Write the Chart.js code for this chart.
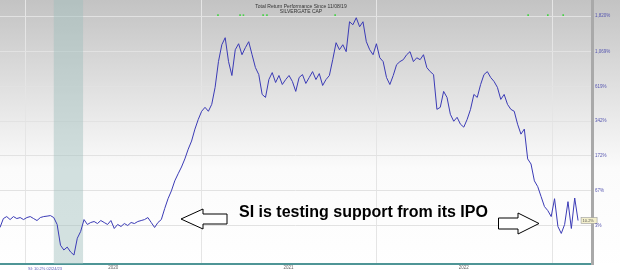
<!DOCTYPE html>
<html>
<head>
<meta charset="utf-8">
<script src="https://cdn.jsdelivr.net/npm/chart.js@4.4.1/dist/chart.umd.min.js"></script>
<style>
  html, body { margin: 0; padding: 0; background: #fff; }
  canvas { display: block; }
</style>
</head>
<body>
<canvas id="perfChart" width="620" height="272"></canvas>
<script>
const titleLines = ["Total Return Performance Since 11/08/19", "SILVERGATE CAP"];
const calloutText = "SI is testing support from its IPO";

// weekly closes, total return % since the start date
const startDate = "2019-11-08";
const totalReturnPct = [
  0, 13.3, 16.5, 11.7, 16.5, 13.3, 14.9, 11.7, 14.9, 16.5,
  13.3, 10.2, 14.9, 16.5, 17.2, 18.1, 14.9, 4.3, -22, -27,
  -24, -29, -32, -14, -5.4, 11.7, 4.3, 7.2, 8.7, 5.7,
  10.2, 7.2, 4.3, 10.2, -1.4, 4.3, 1.4, 5.7, 2.8, 7.2,
  5.7, 8.7, 10.2, 11.7, 14.9, 7.2, 0, 7.2, 11.7, 30.2,
  49.6, 67, 92, 112, 133, 161, 199, 235, 296, 354,
  408, 437, 408, 460, 610, 918, 1189, 1322, 918, 738,
  1102, 1207, 1021, 1137, 1245, 1021, 836, 749, 543, 517,
  692, 773, 660, 738, 639, 692, 738, 671, 571, 715,
  749, 650, 715, 785, 692, 761, 629, 692, 738, 946,
  1226, 1102, 1189, 1070, 1678, 1604, 1780, 1558, 1678, 1245,
  1102, 1021, 1207, 974, 918, 715, 639, 738, 875, 918,
  946, 1021, 1070, 918, 974, 946, 1021, 836, 785, 749,
  422, 437, 571, 517, 387, 342, 367, 324, 307, 354,
  422, 543, 517, 639, 749, 785, 715, 671, 610, 500,
  543, 460, 422, 408, 324, 269, 296, 161, 143, 92,
  77, 54, 34, 26.6, 16.5, 49.6, 1.4, -8, 4.3, 43.5,
  -1.4, 51, 10.2
];

const yearStarts = ["2020-01-01", "2021-01-01", "2022-01-01", "2023-01-01"];
const midYears = ["2020-07-01", "2021-07-01", "2022-07-01"];
const yearLabels = ["2020", "2021", "2022"];
const yTickPct = [3, 67, 172, 342, 619, 1069, 1820];
const recession = ["2020-02-28", "2020-04-29"];
const eventDates = ["2021-02-04", "2021-03-22", "2021-03-29", "2021-05-09", "2021-05-17",
  "2021-10-06", "2022-11-12", "2022-12-23", "2023-01-24"];
const axisStart = "2019-11-08";
const axisEnd = "2023-03-25";

const DAY = 86400000;
const t = (s) => Date.parse(s + "T00:00:00Z");

const points = totalReturnPct.map((v, i) => ({
  x: t(startDate) + i * 7 * DAY,
  y: 1 + v / 100
}));

const xTicks = [];
yearStarts.forEach((d, i) => {
  xTicks.push({ value: t(d), kind: "year" });
  if (midYears[i]) xTicks.push({ value: t(midYears[i]), kind: "mid", label: yearLabels[i] });
});

const fmtPct = (v) => v.toLocaleString("en-US") + "%";
const smallFont = "'Liberation Sans', Arial, sans-serif";

const paperPlugin = {
  id: "paper",
  beforeDraw(chart) {
    const { ctx, width, height } = chart;
    const g = ctx.createLinearGradient(0, 0, 0, height);
    g.addColorStop(0, "#c3c3c3");
    g.addColorStop(0.62, "#fbfbfb");
    g.addColorStop(1, "#ffffff");
    ctx.save();
    ctx.fillStyle = g;
    ctx.fillRect(0, 0, width, height);
    ctx.fillStyle = "#ffffff";
    ctx.fillRect(0, chart.chartArea.bottom, width, height - chart.chartArea.bottom);
    ctx.restore();
  },
  beforeDatasetsDraw(chart) {
    const { ctx, chartArea, scales } = chart;
    const x0 = scales.x.getPixelForValue(t(recession[0]));
    const x1 = scales.x.getPixelForValue(t(recession[1]));
    ctx.save();
    ctx.fillStyle = "rgba(160,190,188,0.45)";
    ctx.fillRect(x0, chartArea.top, x1 - x0, chartArea.bottom - chartArea.top);
    ctx.restore();
  },
  afterDatasetsDraw(chart) {
    const { ctx } = chart;
    const meta = chart.getDatasetMeta(0);
    const last = meta.data[meta.data.length - 1];
    const txt = fmtPct(totalReturnPct[totalReturnPct.length - 1]);
    ctx.save();
    ctx.fillStyle = "#f3efcc";
    ctx.strokeStyle = "#9a9a9a";
    ctx.lineWidth = 0.6;
    ctx.fillRect(last.x + 3, last.y - 3, 16, 6);
    ctx.strokeRect(last.x + 3, last.y - 3, 16, 6);
    ctx.fillStyle = "#555";
    ctx.font = "4px " + smallFont;
    ctx.textBaseline = "middle";
    ctx.fillText(txt, last.x + 4.5, last.y + 0.3);
    ctx.restore();
  },
  afterDraw(chart) {
    const { ctx, scales } = chart;
    ctx.save();
    // right axis labels
    ctx.fillStyle = "#5656b0";
    ctx.font = "4.5px " + smallFont;
    ctx.textBaseline = "middle";
    yTickPct.forEach((p) => {
      const y = scales.y.getPixelForValue(1 + p / 100);
      ctx.fillText(fmtPct(p), scales.y.left + 3, y);
    });

    // title
    ctx.textBaseline = "alphabetic";
    ctx.fillStyle = "#333";
    ctx.font = "5px " + smallFont;
    ctx.textAlign = "center";
    ctx.fillText(titleLines[0], 301, 8.3);
    ctx.fillText(titleLines[1], 301, 12.8);

    // status text under the axis
    ctx.textAlign = "left";
    ctx.fillStyle = "#5a5ab8";
    ctx.font = "4px " + smallFont;
    ctx.fillText("SI: " + fmtPct(totalReturnPct[totalReturnPct.length - 1]) + " 02/24/23", 28, 270);

    // callout
    ctx.fillStyle = "#000";
    ctx.font = "bold 16px " + smallFont;
    ctx.fillText(calloutText, 239, 217);

    ctx.strokeStyle = "#000";
    ctx.lineWidth = 1;
    ctx.fillStyle = "#fff";
    ctx.beginPath();
    ctx.moveTo(181, 219);
    ctx.lineTo(203, 209);
    ctx.lineTo(203, 214);
    ctx.lineTo(227, 214);
    ctx.lineTo(227, 224);
    ctx.lineTo(203, 224);
    ctx.lineTo(203, 229);
    ctx.closePath();
    ctx.fill();
    ctx.stroke();

    ctx.beginPath();
    ctx.moveTo(539, 223.5);
    ctx.lineTo(518, 213);
    ctx.lineTo(518, 218);
    ctx.lineTo(498.5, 218);
    ctx.lineTo(498.5, 229);
    ctx.lineTo(518, 229);
    ctx.lineTo(518, 234);
    ctx.closePath();
    ctx.fill();
    ctx.stroke();
    ctx.restore();
  }
};

new Chart(document.getElementById("perfChart"), {
  type: "line",
  data: {
    datasets: [
      {
        label: "SILVERGATE CAP",
        data: points,
        borderColor: "#3b3bb6",
        borderWidth: 1,
        pointRadius: 0,
        tension: 0
      },
      {
        type: "scatter",
        label: "events",
        data: eventDates.map((d) => ({ x: t(d), y: 19.5 })),
        pointStyle: "rect",
        pointRadius: 1.1,
        backgroundColor: "#3fd23f",
        borderColor: "#3fd23f",
        borderWidth: 0
      }
    ]
  },
  plugins: [paperPlugin],
  options: {
    responsive: false,
    animation: false,
    layout: { padding: 0, autoPadding: false },
    plugins: {
      legend: { display: false },
      tooltip: { enabled: false }
    },
    scales: {
      x: {
        type: "linear",
        min: t(axisStart),
        max: t(axisEnd),
        afterBuildTicks: (scale) => { scale.ticks = xTicks.map((k) => ({ value: k.value })); },
        afterFit: (scale) => { scale.height = 8; },
        ticks: {
          autoSkip: false,
          maxRotation: 0,
          padding: 1,
          color: "#666",
          font: { size: 4.5, family: smallFont },
          callback: (v, i) => xTicks[i].kind === "mid" ? xTicks[i].label : ""
        },
        grid: {
          drawTicks: false,
          color: (c) => (c.index !== undefined && xTicks[c.index] && xTicks[c.index].kind === "year") ? "#e5e5e5" : "rgba(0,0,0,0)",
          lineWidth: 1
        },
        border: { display: true, color: "#4e9596", width: 2 }
      },
      y: {
        type: "logarithmic",
        position: "right",
        min: 0.632,
        max: 24.1,
        afterBuildTicks: (scale) => { scale.ticks = yTickPct.map((p) => ({ value: 1 + p / 100 })); },
        afterFit: (scale) => { scale.width = 28; },
        ticks: { display: false },
        grid: { drawTicks: false, color: "#e2e2e2", lineWidth: 1 },
        border: { display: true, color: "#a9a9a9", width: 3 }
      }
    }
  }
});
</script>
</body>
</html>
